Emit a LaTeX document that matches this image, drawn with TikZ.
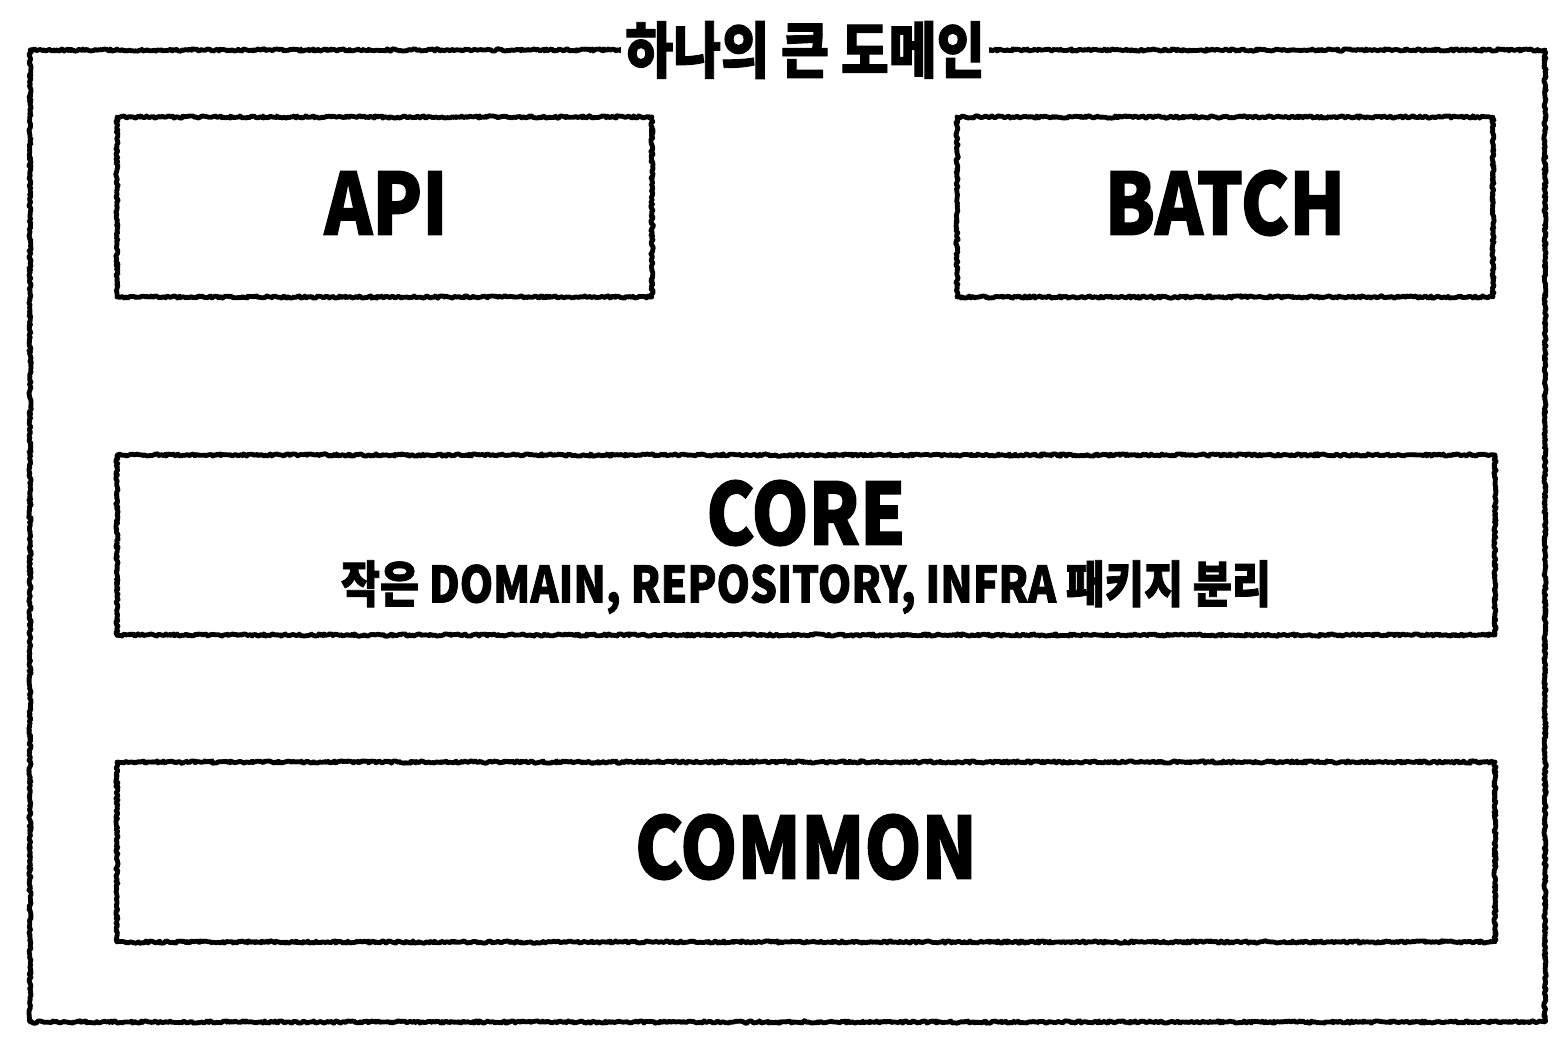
\documentclass[tikz,border=0pt]{standalone}
\usepackage{fontspec}
\newfontfamily\krfont{Noto Sans CJK KR}[FakeStretch=0.85, FakeBold=1.5]
\usetikzlibrary{decorations.pathmorphing}

\tikzset{every picture/.style={line width=0.75pt}}
\tikzset{
  roughbox/.style={draw, line width=3.6pt, line join=round, line cap=round, decorate,
    decoration={random steps, segment length=1.2pt, amplitude=0.9pt}},
  boxtext/.style={inner sep=0.75pt, font=\krfont\bfseries\fontsize{64}{64}\selectfont},
  subtext/.style={inner sep=0.75pt, font=\krfont\bfseries\fontsize{37.5}{37.5}\selectfont},
  titletext/.style={inner sep=3pt, fill=white, font=\krfont\bfseries\fontsize{46}{46}\selectfont}
}

\begin{document}
\begin{tikzpicture}[x=0.75pt,y=0.75pt,yscale=-1,xscale=1]
\useasboundingbox (0,0) rectangle (1566,1054);

%Outer domain box
\draw [roughbox] (30,50) rectangle (1545,1022) ;
% Title
\node [titletext] (title) at (805,50) {하나의 큰 도메인};

%API box
\node [roughbox, minimum width=401.25pt, minimum height=135pt] (api) at (384.5,207) {};
\node [boxtext] (apitext) at (386,203) {API};
%BATCH box
\node [roughbox, minimum width=402pt, minimum height=135pt] (batch) at (1225,207) {};
\node [boxtext] (batchtext) at (1225,203) {BATCH};

%CORE box
\node [roughbox, minimum width=1033.5pt, minimum height=135pt] (core) at (806,545) {};
\node [boxtext] (coretext) at (806,513) {CORE};
\node [subtext] (coresub) at (806,587) {작은 DOMAIN, REPOSITORY, INFRA 패키지 분리};

%COMMON box
\node [roughbox, minimum width=1033.5pt, minimum height=135pt] (common) at (806,852) {};
\node [boxtext] (commontext) at (806,847) {COMMON};

\end{tikzpicture}
\end{document}
